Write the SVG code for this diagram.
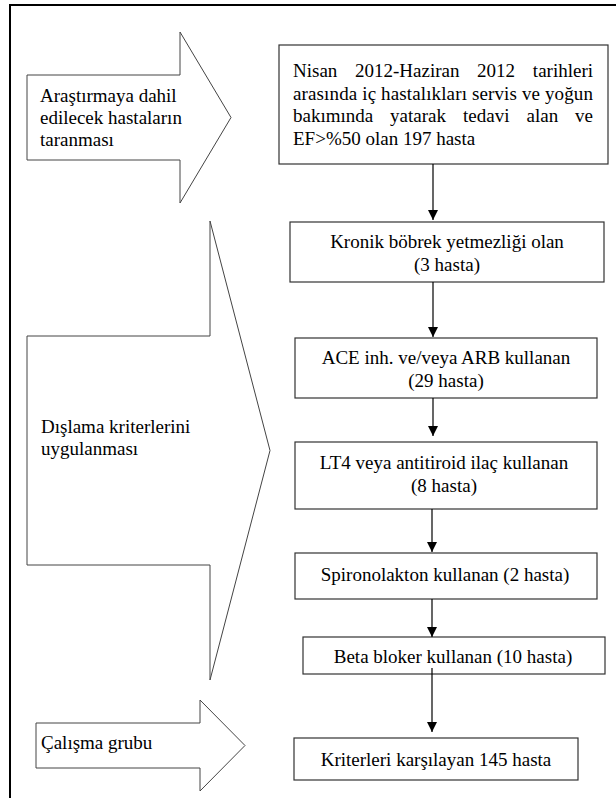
<svg xmlns="http://www.w3.org/2000/svg" width="616" height="798" viewBox="0 0 616 798">
<style>
.frame{fill:none;stroke:#000;stroke-width:2}
.shape{fill:#fff;stroke:#444;stroke-width:1}
.box{fill:#fff;stroke:#333;stroke-width:1.2}
.t{font-size:19px;fill:#000}
.c{text-anchor:middle}
.conn{stroke:#000;stroke-width:1.2;fill:none;marker-end:url(#ah)}
</style>
<defs>
<marker id="ah" viewBox="0 0 10 10" refX="10" refY="5" markerWidth="10" markerHeight="10" markerUnits="userSpaceOnUse" orient="auto">
<path d="M0,0 L10,5 L0,10 z" fill="#000"/>
</marker>
</defs>
<rect width="616" height="798" fill="#fff"/>
<path class="frame" d="M10,798 V5 H616"/>

<g font-family="'Liberation Serif', 'Times New Roman', serif">
<g id="arrow-screening">
<polygon class="shape" points="27,75 180,75 180,32 231,117.5 180,203 180,160 27,160"/>
<text class="t" x="40" y="102">Araştırmaya dahil</text>
<text class="t" x="40" y="124">edilecek hastaların</text>
<text class="t" x="40" y="146">taranması</text>
</g>

<g id="arrow-exclusion">
<polygon class="shape" points="27,336 210,336 210,221 270,450.5 210,680 210,565 27,565"/>
<text class="t" x="41" y="433">Dışlama kriterlerini</text>
<text class="t" x="41" y="455">uygulanması</text>
</g>

<g id="arrow-study">
<polygon class="shape" points="36,723 200,723 200,700 245,745.5 200,791 200,768 36,768"/>
<text class="t" x="41" y="749">Çalışma grubu</text>
</g>

<g id="box-197">
<rect class="box" x="279" y="45" width="329" height="119"/>
<text class="t" y="77"><tspan x="293">Nisan</tspan><tspan x="355">2012-Haziran</tspan><tspan x="477">2012</tspan><tspan x="593" text-anchor="end">tarihleri</tspan></text>
<text class="t" x="293" y="99.5" textLength="300" lengthAdjust="spacing">arasında iç hastalıkları servis ve yoğun</text>
<text class="t" y="122"><tspan x="293">bakımında</tspan><tspan x="390">yatarak</tspan><tspan x="463">tedavi</tspan><tspan x="526.5">alan</tspan><tspan x="593" text-anchor="end">ve</tspan></text>
<text class="t" x="293" y="144.5">EF&gt;%50 olan 197 hasta</text>
</g>

<g id="box-kby">
<rect class="box" x="290" y="222" width="314" height="60"/>
<text class="t c" x="447" y="248">Kronik böbrek yetmezliği olan</text>
<text class="t c" x="447" y="271">(3 hasta)</text>
</g>

<g id="box-ace">
<rect class="box" x="295" y="338" width="302" height="60"/>
<text class="t c" x="446" y="364">ACE inh. ve/veya ARB kullanan</text>
<text class="t c" x="446" y="387">(29 hasta)</text>
</g>

<g id="box-lt4">
<rect class="box" x="295" y="442" width="302" height="67"/>
<text class="t c" x="444" y="469">LT4 veya antitiroid ilaç kullanan</text>
<text class="t c" x="444" y="492">(8 hasta)</text>
</g>

<g id="box-spiro">
<rect class="box" x="295" y="553" width="302" height="46"/>
<text class="t c" x="445" y="581">Spironolakton kullanan (2 hasta)</text>
</g>

<g id="box-beta">
<rect class="box" x="303" y="637" width="302" height="37"/>
<text class="t c" x="453" y="663">Beta bloker kullanan (10 hasta)</text>
</g>

<g id="box-145">
<rect class="box" x="294" y="738" width="284" height="42"/>
<text class="t c" x="436" y="766">Kriterleri karşılayan 145 hasta</text>
</g>
</g>

<g id="connectors">
<line class="conn" x1="433" y1="164" x2="433" y2="220"/>
<line class="conn" x1="433" y1="282" x2="433" y2="337"/>
<line class="conn" x1="433" y1="398" x2="433" y2="436"/>
<line class="conn" x1="432" y1="509" x2="432" y2="552"/>
<line class="conn" x1="432" y1="599" x2="432" y2="637"/>
<line class="conn" x1="432" y1="668" x2="432" y2="732"/>
</g>
</svg>
